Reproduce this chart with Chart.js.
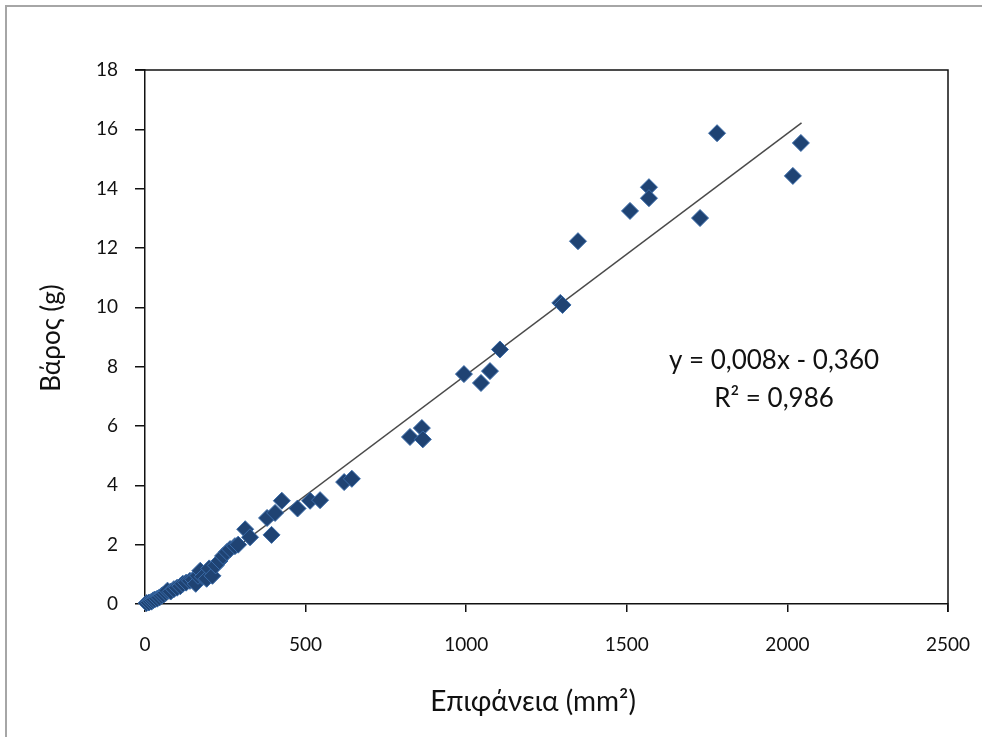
<!DOCTYPE html>
<html>
<head>
<meta charset="utf-8">
<script src="https://cdn.jsdelivr.net/npm/chart.js@4"></script>
<style>
  html, body { margin: 0; padding: 0; background: #fff; }
  #wrap { width: 982px; height: 737px; position: relative; }
</style>
</head>
<body>
<div id="wrap"><canvas id="c" width="982" height="737"></canvas></div>
<script>
// Surface (mm²) and weight (g)
const areaValues = [5, 12, 20, 25, 30, 38, 45, 52, 58, 65, 70, 80, 90, 100, 110, 118, 128, 140, 150, 158,
  165, 172, 180, 192, 200, 210, 220, 232, 243, 255, 265, 280, 290, 312, 327, 380, 394, 405, 426, 475,
  514, 545, 620, 644, 825, 862, 865, 993, 1046, 1074, 1105, 1293, 1300, 1348, 1510, 1569, 1569, 1728,
  1781, 2017, 2042];
const weightValues = [0.03, 0.05, 0.08, 0.12, 0.15, 0.18, 0.22, 0.28, 0.32, 0.38, 0.45, 0.42, 0.5, 0.55, 0.6, 0.68, 0.72, 0.78, 0.82, 0.68,
  0.95, 1.12, 0.92, 0.85, 1.2, 0.95, 1.3, 1.45, 1.62, 1.75, 1.85, 1.95, 2.0, 2.52, 2.25, 2.9, 2.33, 3.07, 3.48, 3.22,
  3.48, 3.5, 4.11, 4.22, 5.63, 5.93, 5.55, 7.75, 7.45, 7.85, 8.58, 10.15, 10.08, 12.23, 13.25, 14.05, 13.68, 13.01,
  15.87, 14.43, 15.54];
// Trendline endpoints as drawn in the picture
const trendX = [50, 2044];
const trendY = [0, 16.22];
// Axis ticks
const xTicks = [0, 500, 1000, 1500, 2000, 2500];
const yTicks = [0, 2, 4, 6, 8, 10, 12, 14, 16, 18];
const xTitle = 'Επιφάνεια (mm²)';
const yTitle = 'Βάρος (g)';
const eqLine1 = 'y = 0,008x - 0,360';
const eqLine2 = 'R² = 0,986';

const FONT = 'Lato, "Open Sans", sans-serif';
const TXT = '#111';

const points = areaValues.map((x, i) => ({ x: x, y: weightValues[i] }));
const trend = trendX.map((x, i) => ({ x: x, y: trendY[i] }));

const decor = {
  id: 'decor',
  beforeDraw(chart) {
    const ctx = chart.ctx;
    ctx.save();
    ctx.fillStyle = '#fff';
    ctx.fillRect(0, 0, chart.width, chart.height);
    ctx.strokeStyle = '#a6a6a6';
    ctx.lineWidth = 2;
    ctx.beginPath();
    ctx.moveTo(6, 737);
    ctx.lineTo(6, 6);
    ctx.lineTo(982, 6);
    ctx.stroke();
    ctx.restore();
  },
  afterDraw(chart) {
    const ctx = chart.ctx;
    const a = chart.chartArea;
    ctx.save();
    ctx.strokeStyle = '#111';
    ctx.lineWidth = 1.5;
    ctx.beginPath();
    ctx.moveTo(a.left - 10, a.top);
    ctx.lineTo(a.right, a.top);
    ctx.lineTo(a.right, a.bottom + 8);
    ctx.stroke();
    ctx.fillStyle = TXT;
    ctx.textAlign = 'center';
    ctx.textBaseline = 'middle';
    ctx.font = '26px ' + FONT;
    ctx.fillText(eqLine1, 774, 361);
    ctx.fillText(eqLine2, 774, 399);
    ctx.font = '28px ' + FONT;
    ctx.fillText(xTitle, 533, 702);
    ctx.font = '26px ' + FONT;
    ctx.translate(52, 338);
    ctx.rotate(-Math.PI / 2);
    ctx.fillText(yTitle, 0, 0);
    ctx.restore();
  }
};

new Chart(document.getElementById('c'), {
  type: 'scatter',
  data: {
    datasets: [
      {
        type: 'line',
        data: trend,
        borderColor: '#4a4a4a',
        borderWidth: 1.5,
        pointRadius: 0,
        fill: false,
        order: 2
      },
      {
        data: points,
        pointStyle: 'rectRot',
        pointRadius: 8.5,
        backgroundColor: '#1f4373',
        borderColor: '#3a6ba8',
        borderWidth: 1,
        clip: 12,
        order: 1
      }
    ]
  },
  options: {
    responsive: false,
    animation: false,
    devicePixelRatio: 1,
    layout: { padding: { top: 70, right: 34, left: 0, bottom: 0 } },
    plugins: { legend: { display: false }, tooltip: { enabled: false } },
    scales: {
      x: {
        type: 'linear',
        min: 0, max: 2500,
        afterFit(s) { s.height = 133; s.paddingLeft = 0; s.paddingRight = 0; },
        afterBuildTicks(s) { s.ticks = xTicks.map(v => ({ value: v })); },
        grid: { drawOnChartArea: false, drawTicks: true, tickLength: 8, color: '#111', lineWidth: 1.5 },
        border: { display: true, color: '#111', width: 1.5 },
        ticks: { color: TXT, font: { family: FONT, size: 19 }, padding: 21, maxRotation: 0,
          callback: v => String(v) }
      },
      y: {
        type: 'linear',
        min: 0, max: 18,
        afterFit(s) { s.width = 145; s.paddingTop = 0; s.paddingBottom = 0; },
        afterBuildTicks(s) { s.ticks = yTicks.map(v => ({ value: v })); },
        grid: { drawOnChartArea: false, drawTicks: true, tickLength: 10, color: '#111', lineWidth: 1.5 },
        border: { display: true, color: '#111', width: 1.5 },
        ticks: { color: TXT, font: { family: FONT, size: 19 }, padding: 17, callback: v => String(v) }
      }
    }
  },
  plugins: [decor]
});
</script>
</body>
</html>
